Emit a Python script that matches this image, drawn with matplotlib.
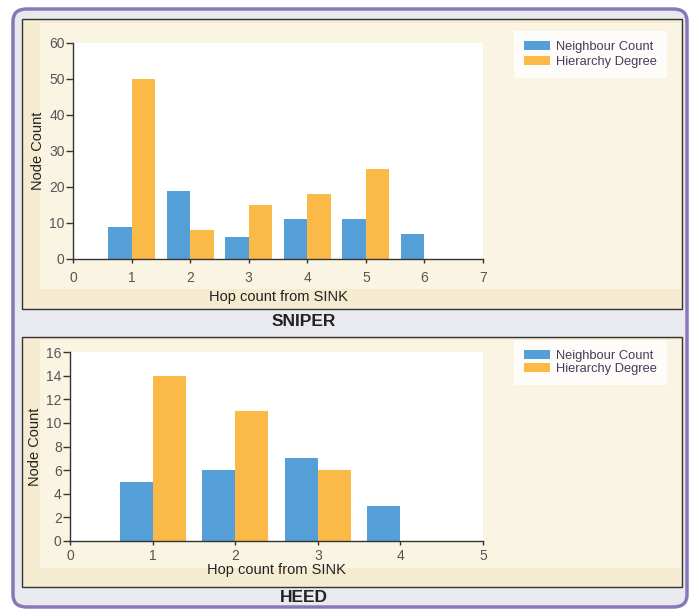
import numpy as np
import matplotlib.pyplot as plt
from matplotlib.patches import FancyBboxPatch, Rectangle

plt.rcParams['font.family'] = ['Liberation Sans', 'DejaVu Sans']

# SNIPER data
sniper_hops = [1, 2, 3, 4, 5, 6]
sniper_neigh = [9, 19, 6, 11, 11, 7]
sniper_hier = [50, 8, 15, 18, 25, 0]

# HEED data
heed_hops = [1, 2, 3, 4]
heed_neigh = [5, 6, 7, 3]
heed_hier = [14, 11, 6, 0]

BLUE = '#559fd8'
ORANGE = '#fbb947'
W, H = 692, 611

fig = plt.figure(figsize=(6.92, 6.11), dpi=100)
fig.patch.set_facecolor('white')


def box(x, y, w, h):
	# pixel box (top-left origin) -> figure fractions
	return x / W, 1 - (y + h) / H, w / W, h / H


def rect(x, y, w, h, z, **kw):
	l, b, ww, hh = box(x, y, w, h)
	fig.patches.append(Rectangle((l, b), ww, hh, transform=fig.transFigure, zorder=z, **kw))


# outer rounded frame
l, b, ww, hh = box(13, 9, 674, 598)
fig.patches.append(FancyBboxPatch((l, b), ww, hh, boxstyle='round,pad=0,rounding_size=0.02',
                                  transform=fig.transFigure, facecolor='#e9eaef',
                                  edgecolor='#8a77b6', linewidth=2.5, zorder=-3))

# panel backgrounds
for (py, ph, iy, ih) in [(19, 290, 23, 266), (337, 250, 340, 228)]:
	rect(22, py, 660, ph, -2, facecolor='#f5ebd0', edgecolor='#333333', linewidth=1)
	rect(40, iy, 641, ih, -1, facecolor='#faf4e3', edgecolor='none')


def draw(axpos, hops, neigh, hier, ymax, ystep, xmax, title, title_y, legend_y,
         xpad, xlabelpad, lspace):
	ax = fig.add_axes(box(*axpos))
	x = np.array(hops)
	ax.bar(x - 0.2, neigh, width=0.4, color=BLUE, label='Neighbour Count')
	ax.bar(x + 0.2, hier, width=0.4, color=ORANGE, label='Hierarchy Degree')
	ax.set_xlim(0, xmax)
	ax.set_ylim(0, ymax)
	ax.set_xticks(range(0, xmax + 1))
	ax.set_yticks(range(0, ymax + 1, ystep))
	for s in ['top', 'right']:
		ax.spines[s].set_visible(False)
	for s in ['left', 'bottom']:
		ax.spines[s].set_color('#333333')
		ax.spines[s].set_linewidth(1)
	ax.tick_params(length=5, width=1, color='#333333', labelsize=10, labelcolor='#555555')
	ax.tick_params(axis='y', pad=1)
	ax.tick_params(axis='x', length=3, pad=xpad)
	ax.set_ylabel('Node Count', fontsize=10.5, color='#222222', labelpad=3)
	ax.set_xlabel('Hop count from SINK', fontsize=10.5, color='#222222', labelpad=xlabelpad)
	leg = ax.legend(loc='upper left', bbox_to_anchor=(514 / W, 1 - legend_y / H),
	                bbox_transform=fig.transFigure, fontsize=9.3, frameon=True, fancybox=False,
	                handlelength=2.0, handleheight=0.7, borderpad=0.75, labelspacing=lspace,
	                handletextpad=0.5, borderaxespad=0)
	leg.get_frame().set_facecolor('white')
	leg.get_frame().set_edgecolor('none')
	for t in leg.get_texts():
		t.set_color('#4a3a5c')
	fig.text(304 / W, 1 - title_y / H, title, ha='center', va='center',
	         fontsize=12.5, fontweight='bold', color='#222222')
	return ax


draw((73, 43, 410, 216), sniper_hops, sniper_neigh, sniper_hier, 60, 10, 7, 'SNIPER', 322, 31,
     6, 3, 0.28)
draw((70, 352, 413, 189), heed_hops, heed_neigh, heed_hier, 16, 2, 5, 'HEED', 598, 340,
     3, 0, 0.1)

fig.savefig('out.png', dpi=100)
